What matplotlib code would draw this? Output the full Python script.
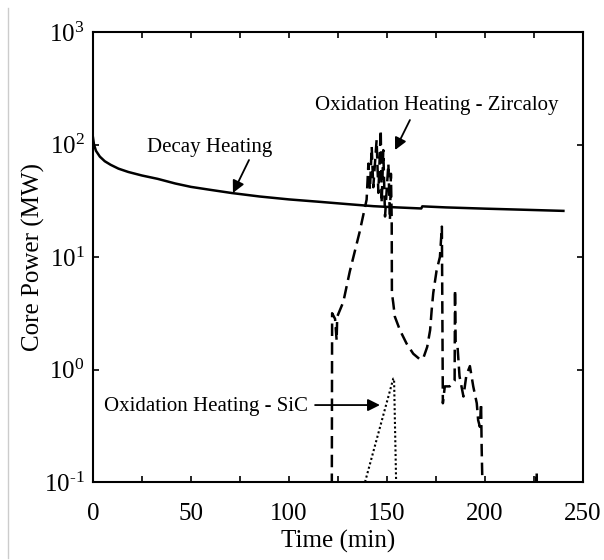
import matplotlib
matplotlib.use("Agg")
import matplotlib.pyplot as plt
from matplotlib.lines import Line2D
from matplotlib.ticker import MultipleLocator, NullLocator, FixedLocator
import numpy as np

plt.rcParams["font.family"] = ["Liberation Serif", "DejaVu Serif"]
plt.rcParams["mathtext.fontset"] = "custom"
plt.rcParams["mathtext.rm"] = "Liberation Serif"
plt.rcParams["mathtext.it"] = "Liberation Serif"
plt.rcParams["mathtext.default"] = "rm"

# decay heating (solid)
decay_t = [0, 0.5, 1.5, 3.5, 6, 9, 13, 18, 25, 33, 42, 50, 60, 71, 85,
           100, 115, 130, 143, 155, 167.5, 168, 180, 200, 220, 240]
decay_p = [115, 100, 88, 78, 71, 66, 61, 57, 53, 49.5, 45, 42, 39.5, 37, 34.5,
           32.5, 31, 29.5, 28.3, 27.6, 27.0, 28.2, 27.6, 26.9, 26.3, 25.7]

# oxidation heating - zircaloy (dashed), values read as log10(MW)
zirc_t = [121.5, 121.8, 122.0, 123.5, 124.3, 124.6, 127.7, 131.0, 136.0,
          139.6, 140.5, 141.3, 142.2, 143.0, 144.7, 145.6, 146.8, 147.3,
          148.1, 149.0, 150.7, 151.5, 152.0, 152.4, 152.5, 153.2, 154.0,
          156.6, 160.0, 163.4, 166.8, 168.5, 170.5, 172.0, 172.8, 173.6,
          175.3, 177.0, 178.0, 178.5, 179.5, 182.0, 184.5, 184.7, 185.0,
          186.0, 187.0, 189.0, 190.5, 192.3, 194.0, 195.8, 196.5, 197.4,
          198.0, 198.3, 198.6, 199.0, 199.5, 226.0, 226.4, 226.9, 240.0]
zirc_log = [-3.0, -1.5, 0.50, 0.45, 0.26, 0.47, 0.60, 0.87, 1.22,
            1.51, 1.83, 1.60, 1.98, 1.62, 2.04, 1.57, 2.13, 1.48,
            1.95, 1.36, 1.83, 1.33, 1.74, 1.33, 0.68, 0.59, 0.47,
            0.35, 0.23, 0.14, 0.09, 0.10, 0.20, 0.35, 0.53, 0.68,
            0.88, 1.00, 1.27, -0.30, -0.15, -0.15, -0.10, 0.71, 0.24,
            0.20, -0.06, -0.24, -0.05, 0.03, -0.15, -0.30, -0.45, -0.51,
            -0.30, -0.70, -0.95, -1.20, -3.0, -3.0, -0.91, -3.0, -3.0]

# oxidation heating - SiC (dotted)
sic_t = [138.8, 153.2, 153.6, 155.0]
sic_p = [0.1, 0.83, 0.83, 0.05]

y_ticks = [0.1, 1, 10, 100, 1000]
y_labels = [r"$10^{\text{-}1}$", r"$10^{0}$", r"$10^{1}$", r"$10^{2}$", r"$10^{3}$"]

fig = plt.figure(figsize=(6.04, 5.6), dpi=100)
ax = fig.add_axes([93 / 604, 1 - 482 / 560, 490 / 604, 450 / 560])

ax.plot(decay_t, decay_p, color="black", lw=1.8, solid_joinstyle="round")
ax.plot(zirc_t, 10 ** np.array(zirc_log), color="black", lw=1.8,
        linestyle=(0, (5, 2.5)))
ax.plot(sic_t, sic_p, color="black", lw=1.5, linestyle=(0, (1, 1.2)))

ax.set_yscale("log")
ax.set_xlim(0, 250)
ax.set_ylim(0.1, 1000)
ax.xaxis.set_major_locator(MultipleLocator(50))
ax.xaxis.set_minor_locator(MultipleLocator(25))
ax.yaxis.set_major_locator(FixedLocator(y_ticks))
ax.yaxis.set_minor_locator(NullLocator())
ax.set_yticklabels(y_labels)
ax.tick_params(which="both", direction="in", top=True, right=True,
               labelsize=18, width=1.2, length=4)
ax.tick_params(axis="x", pad=15)
ax.tick_params(axis="y", pad=6)
for s in ax.spines.values():
    s.set_linewidth(1.5)

ax.set_xlabel("Time (min)", fontsize=18, labelpad=4)
ax.set_ylabel("Core Power (MW)", fontsize=18)
ax.yaxis.set_label_coords(-0.097, 0.5)

arrow = dict(arrowstyle="-|>", color="black", lw=1.3, mutation_scale=18,
             shrinkA=0, shrinkB=0)
ax.text(59.7, 95, "Decay Heating", fontsize=15, ha="center", va="center")
ax.annotate("", xy=(71.4, 37.1), xytext=(79.6, 72.8), arrowprops=arrow)
ax.text(175.5, 224, "Oxidation Heating - Zircaloy", fontsize=15,
        ha="center", va="center")
ax.annotate("", xy=(154.1, 89.3), xytext=(161.7, 165), arrowprops=arrow)
ax.text(57.7, 0.467, "Oxidation Heating - SiC", fontsize=15,
        ha="center", va="center")
ax.annotate("", xy=(146.4, 0.483), xytext=(113.3, 0.483), arrowprops=arrow)

# faint border line at the left of the picture
fig.add_artist(Line2D([8 / 604, 8 / 604], [0.003, 0.985], color="#cccccc", lw=1))

fig.savefig("out.png", dpi=100)
